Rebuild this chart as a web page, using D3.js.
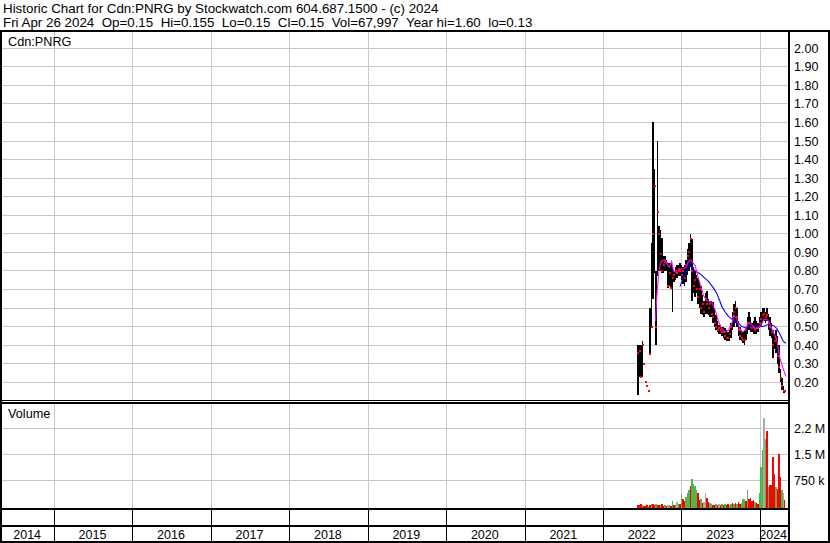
<!DOCTYPE html>
<html><head><meta charset="utf-8">
<script src="https://cdn.jsdelivr.net/npm/d3@7"></script>
<style>
html,body{margin:0;padding:0;background:#fff;}
svg{display:block;}
text{font-family:"Liberation Sans",Arial,sans-serif;fill:#000;white-space:pre;}
</style></head><body>
<svg id="c" width="830" height="543"></svg>
<script>
// ---------------- DATA ----------------
const headerLines = [
  "Historic Chart for Cdn:PNRG by Stockwatch.com 604.687.1500 - (c) 2024",
  "Fri Apr 26 2024  Op=0.15  Hi=0.155  Lo=0.15  Cl=0.15  Vol=67,997  Year hi=1.60  lo=0.13"
];
const symbolLabel = "Cdn:PNRG";
const volumeLabel = "Volume";
const priceTicks = [2.00,1.90,1.80,1.70,1.60,1.50,1.40,1.30,1.20,1.10,1.00,0.90,0.80,0.70,0.60,0.50,0.40,0.30,0.20];
const volumeTicks = [750000,1500000,2250000];
const volumeTickLabels = ["750 k","1.5 M","2.2 M"];
const years = [2014,2015,2016,2017,2018,2019,2020,2021,2022,2023,2024];
const weekStart = "2022-06-06";
const weekHigh = [.40,.40,.40,.42,.30,.20,.18,.155,.60,.95,1.60,1.35,.80,1.50,1.04,1.02,.98,.88,.88,.86,
  .84,.84,.84,.82,.80,.82,.83,.83,.84,.83,.82,.83,.86,.92,.95,1.00,.97,.82,.80,.78,
  .76,.74,.72,.67,.64,.68,.69,.65,.64,.64,.63,.60,.56,.53,.51,.51,.50,.50,.49,.48,
  .47,.48,.52,.58,.62,.64,.60,.53,.50,.48,.47,.48,.50,.55,.58,.55,.52,.53,.55,.53,
  .52,.55,.58,.60,.60,.58,.60,.57,.55,.52,.48,.46,.48,.45,.40,.27,.22,.18,.16];
const weekLow = [.13,.23,.23,.23,.30,.20,.18,.155,.35,.50,.65,.79,.40,.77,.80,.80,.79,.79,.80,.80,
  .71,.72,.70,.58,.74,.75,.76,.77,.77,.75,.73,.72,.74,.78,.80,.82,.64,.68,.66,.68,
  .62,.60,.57,.56,.55,.57,.57,.56,.55,.55,.52,.50,.48,.47,.46,.46,.45,.44,.43,.42,
  .42,.42,.44,.48,.50,.52,.50,.45,.43,.42,.41,.40,.43,.46,.48,.47,.47,.46,.46,.46,
  .47,.49,.50,.52,.53,.52,.53,.48,.45,.44,.33,.38,.36,.30,.25,.20,.16,.14,.14];
const weekClose = [.36,.37,.23,.40,.30,.20,.18,.155,.35,.50,1.00,1.26,.50,1.12,1.00,.89,.80,.83,.85,.84,
  .72,.79,.71,.76,.78,.80,.79,.81,.80,.78,.80,.76,.83,.88,.90,.97,.80,.72,.75,.70,
  .66,.70,.60,.62,.58,.65,.62,.60,.62,.57,.55,.52,.50,.48,.49,.48,.47,.47,.45,.44,
  .44,.46,.50,.55,.58,.60,.55,.48,.45,.44,.43,.43,.48,.52,.52,.50,.49,.50,.48,.49,
  .49,.52,.54,.56,.57,.55,.56,.52,.50,.47,.40,.42,.44,.34,.28,.22,.18,.15,.15];
// weekly volume, millions of shares
const weekVolume = [.04,.03,.05,.03,.02,.02,.03,.02,.04,.05,.06,.04,.05,.03,.04,.03,.05,.02,.03,.02,
  .03,.03,.02,.15,.04,.03,.12,.06,.05,.35,.22,.15,.27,.38,.46,.58,.80,.65,.58,.46,
  .37,.19,.22,.10,.12,.38,.25,.12,.08,.06,.04,.03,.05,.04,.06,.03,.05,.04,.06,.03,
  .05,.04,.06,.08,.05,.10,.06,.12,.05,.08,.22,.22,.15,.46,.22,.25,.15,.17,.12,.08,
  .06,.37,1.13,1.62,2.56,1.95,2.17,.56,.61,.61,1.42,.94,.56,.51,1.52,.85,.46,.37,.17];
// u = up week, d = down week, n = unchanged
const weekDirection = ["d","d","d","u","d","d","d","u","d","u","d","d","u","d","d","u","d","d","u","d",
  "n","u","d","u","d","u","n","u","d","u","d","d","u","u","u","d","u","u","u","u",
  "d","d","u","d","n","n","d","d","u","u","d","d","u","d","n","d","u","d","u","d",
  "d","u","u","d","u","d","u","d","d","u","u","u","d","u","d","d","d","d","u","d",
  "d","u","u","u","n","u","d","u","d","d","d","d","u","d","d","d","u","n","d"];
// moving averages: [week index from weekStart, value]
const maFast = [[12.3,.53],[13.1,.66],[14.5,.79],[15.5,.84],[16.6,.855],[18.6,.86],[20.6,.83],[21.5,.82],
  [23.0,.85],[24.3,.80],[26.4,.79],[28.6,.81],[30.8,.81],[32.6,.82],[34.1,.85],[35.7,.86],[37.5,.84],
  [38.6,.83],[40.5,.77],[41.9,.73],[44.1,.67],[46.3,.64],[49.7,.63],[51.9,.59],[54.1,.53],[56.3,.49],
  [58.5,.47],[60.8,.48],[63.0,.515],[64.4,.56],[66.3,.545],[68.1,.49],[69.6,.47],[71.8,.48],[74.1,.52],
  [76.3,.51],[78.5,.49],[80.7,.49],[82.9,.515],[84.5,.54],[87.0,.535],[89.6,.49],[92.9,.43],[95.0,.33],
  [97.3,.27],[99.0,.23]];
const maSlow = [[28.6,.715],[30.8,.765],[33.0,.80],[34.8,.83],[36.4,.82],[38.6,.80],[41.9,.785],[45.2,.76],
  [47.4,.745],[50.7,.71],[53.0,.68],[55.2,.635],[56.3,.61],[58.5,.58],[60.8,.555],[63.0,.54],[65.2,.53],
  [67.4,.52],[69.6,.50],[71.8,.495],[75.2,.50],[79.6,.50],[84.0,.50],[86.3,.51],[88.5,.51],[90.7,.505],
  [92.9,.49],[95.0,.46],[97.3,.42],[99.0,.41]];

// ---------------- LAYOUT ----------------
const W = 830, H = 543;
const plotL = 2, plotR = 788;
const priceTop = 32, priceBot = 400;
const volTop = 403, volBot = 508;
const gridCol = "#c8c8c8";

const svg = d3.select("#c");
svg.append("rect").attr("width",W).attr("height",H).attr("fill","#fff");

const xs = d3.scaleUtc().domain([new Date(Date.UTC(2015,0,1)), new Date(Date.UTC(2024,0,1))]).range([54.3, 760.3]);
const ys = d3.scaleLinear().domain([0.2, 2.0]).range([382.2, 48.3]);
const yv = d3.scaleLinear().domain([0, 2250000]).range([506.2, 428.3]);

const start = new Date(weekStart + "T00:00:00Z");
const weekDate = i => new Date(start.getTime() + i * 7 * 864e5);

const weeks = weekHigh.map((h,i)=>({i, date: weekDate(i), h, l: weekLow[i], c: weekClose[i], v: weekVolume[i], dir: weekDirection[i]}));
weeks.forEach((d,i)=>{
  d.x0 = Math.round(xs(d.date));
  const nx = i < weeks.length-1 ? Math.round(xs(weekDate(i+1))) : d.x0 + 1;
  d.w = Math.max(1, nx - d.x0);
});

// clip paths
const defs = svg.append("defs");
defs.append("clipPath").attr("id","cp").append("rect").attr("x",plotL).attr("y",priceTop).attr("width",plotR-plotL).attr("height",priceBot-priceTop);
defs.append("clipPath").attr("id","cv").append("rect").attr("x",plotL).attr("y",volTop+1).attr("width",plotR-plotL).attr("height",volBot-volTop-1);

// year boundaries
const yearBounds = years.slice(1).map(y => xs(new Date(Date.UTC(y,0,1))));
const gGrid = svg.append("g").attr("shape-rendering","crispEdges");
gGrid.selectAll("line.hp").data(priceTicks).join("line")
  .attr("x1",plotL).attr("x2",plotR)
  .attr("y1",d=>Math.floor(ys(d))+0.5).attr("y2",d=>Math.floor(ys(d))+0.5)
  .attr("stroke",gridCol).attr("stroke-width",1);
gGrid.selectAll("line.hv").data(volumeTicks).join("line")
  .attr("x1",plotL).attr("x2",plotR)
  .attr("y1",d=>Math.floor(yv(d))+0.5).attr("y2",d=>Math.floor(yv(d))+0.5)
  .attr("stroke",gridCol).attr("stroke-width",1);
yearBounds.forEach(x=>{
  const xx = Math.floor(x)+0.5;
  gGrid.append("line").attr("x1",xx).attr("x2",xx).attr("y1",priceTop).attr("y2",priceBot).attr("stroke",gridCol);
  gGrid.append("line").attr("x1",xx).attr("x2",xx).attr("y1",volTop+1).attr("y2",volBot).attr("stroke",gridCol);
  gGrid.append("line").attr("x1",xx).attr("x2",xx).attr("y1",510).attr("y2",541).attr("stroke","#000");
});

// price bars
const gP = svg.append("g").attr("clip-path","url(#cp)").attr("shape-rendering","crispEdges");
gP.selectAll("rect.bar").data(weeks.filter(d=>d.h>d.l)).join("rect")
  .attr("x",d=>d.x0).attr("width",d=>d.w)
  .attr("y",d=>Math.round(ys(d.h)))
  .attr("height",d=>Math.max(1, Math.round(ys(d.l))-Math.round(ys(d.h))))
  .attr("fill","#000");
gP.selectAll("rect.dot").data(weeks).join("rect")
  .attr("x",d=>d.x0).attr("width",2)
  .attr("y",d=>Math.round(ys(d.c))-1).attr("height",2)
  .attr("fill","#ff0000");

// moving averages
const maLine = d3.line().x(p=>xs(weekDate(p[0]))).y(p=>ys(p[1]));
const gMA = svg.append("g").attr("clip-path","url(#cp)");
gMA.append("path").attr("d",maLine(maSlow)).attr("fill","none").attr("stroke","#0000ff").attr("stroke-width",1.1);
gMA.append("path").attr("d",maLine(maFast)).attr("fill","none").attr("stroke","#ff00ff").attr("stroke-width",1.1);

// volume bars
const volColor = {u:"#4cb84c", d:"#ff0000", n:"#a8a8a8"};
const gV = svg.append("g").attr("clip-path","url(#cv)").attr("shape-rendering","crispEdges");
gV.selectAll("rect").data(weeks).join("rect")
  .attr("x",d=>d.x0).attr("width",d=>d.w)
  .attr("y",d=>Math.round(yv(d.v*1e6)))
  .attr("height",d=>volBot - Math.round(yv(d.v*1e6)))
  .attr("fill",d=>volColor[d.dir]);

// borders / frame
const gF = svg.append("g").attr("shape-rendering","crispEdges").attr("fill","#000");
gF.append("rect").attr("x",0).attr("y",30).attr("width",W).attr("height",2);
gF.append("rect").attr("x",0).attr("y",30).attr("width",2).attr("height",H-30);
gF.append("rect").attr("x",plotR).attr("y",30).attr("width",2).attr("height",H-30);
gF.append("rect").attr("x",W-2).attr("y",30).attr("width",2).attr("height",H-30);
gF.append("rect").attr("x",0).attr("y",400).attr("width",plotR).attr("height",1);
gF.append("rect").attr("x",0).attr("y",402).attr("width",plotR).attr("height",2);
gF.append("rect").attr("x",0).attr("y",508).attr("width",plotR).attr("height",2);
gF.append("rect").attr("x",0).attr("y",525).attr("width",plotR).attr("height",2);
gF.append("rect").attr("x",0).attr("y",541).attr("width",W).attr("height",2);

// header
svg.selectAll("text.hdr").data(headerLines).join("text")
  .attr("x",3).attr("y",(d,i)=>13+i*14).attr("font-size","13.35px").attr("xml:space","preserve").text(d=>d);

svg.append("text").attr("x",8).attr("y",46).attr("font-size","12.7px").text(symbolLabel);
svg.append("text").attr("x",8).attr("y",418).attr("font-size","12.7px").text(volumeLabel);

// right price axis labels
svg.selectAll("text.pt").data(priceTicks).join("text")
  .attr("x",794).attr("y",d=>ys(d)+4.5).attr("font-size","12.5px").text(d=>d.toFixed(2));
svg.selectAll("text.vt").data(volumeTicks).join("text")
  .attr("x",794).attr("y",d=>yv(d)+4.5).attr("font-size","12.5px").text((d,i)=>volumeTickLabels[i]);

// year labels
const edges = [plotL, ...yearBounds, plotR];
svg.selectAll("text.yr").data(years).join("text")
  .attr("x",(d,i)=>(edges[i]+edges[i+1])/2 - 1).attr("y",539).attr("text-anchor","middle")
  .attr("font-size","12.5px").text(d=>d);
</script>
</body></html>
